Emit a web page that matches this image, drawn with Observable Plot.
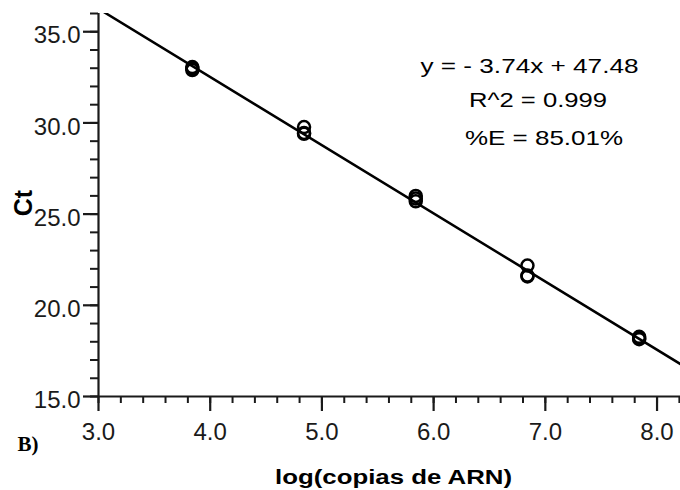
<!DOCTYPE html>
<html><head><meta charset="utf-8">
<script src="https://cdn.jsdelivr.net/npm/d3@7"></script>
<script src="https://cdn.jsdelivr.net/npm/@observablehq/plot@0.6"></script>
<style>
body{margin:0;background:#fff;}
#chart svg{display:block;}
</style></head>
<body><div id="chart"></div>
<script>
// Data
const logCopies = [3.84,3.84,3.84, 4.84,4.84,4.84, 5.84,5.84,5.84, 6.84,6.84,6.84, 7.84,7.84,7.84];
const ctValues  = [33.06,32.98,32.90, 29.77,29.45,29.40, 26.00,25.85,25.70, 22.18,21.63,21.58, 18.27,18.20,18.14];
const slope = -3.74;
const intercept = 47.48;
const annotations = ["y = - 3.74x + 47.48", "R^2 = 0.999", "%E = 85.01%"];
const xMajorTicks = [3, 4, 5, 6, 7, 8];
const yMajorTicks = [15, 20, 25, 30, 35];
const xLabel = ["log(copias de ARN)"];
const yLabel = ["Ct"];
const panelLabel = ["B)"];

const xDomain = [3, 8.21];
const yDomain = [15, 36];
const xMinorTicks = d3.range(3, 8.21, 0.2);
const yMinorTicks = d3.range(15, 36.01, 1);

const points = logCopies.map((x, i) => ({x, y: ctValues[i]}));
const fitLine = xDomain.map(x => ({x, y: slope * x + intercept}));
const fmt = d3.format(".1f");
const ink = "#1a1a1a";

const plot = Plot.plot({
  width: 680,
  height: 490,
  marginLeft: 98,
  marginRight: 0,
  marginTop: 13,
  marginBottom: 94,
  style: {fontFamily: "'Liberation Sans', Arial, sans-serif", background: "white", color: ink},
  x: {domain: xDomain},
  y: {domain: yDomain},
  marks: [
    // minor ticks
    Plot.axisY(yMinorTicks, {tickSize: 8, tickFormat: () => "", label: null, strokeWidth: 2}),
    Plot.axisX(xMinorTicks, {tickSize: 7, tickFormat: () => "", label: null, strokeWidth: 2}),
    // major ticks
    Plot.axisY(yMajorTicks, {tickSize: 15, tickFormat: () => "", label: null, strokeWidth: 2.2}),
    Plot.axisX(xMajorTicks, {tickSize: 15, tickPadding: 11, tickFormat: fmt, fontSize: 24, label: null, strokeWidth: 2.2}),
    // y tick labels
    Plot.text(yMajorTicks, {y: d => d, frameAnchor: "left", text: fmt, textAnchor: "end", dx: -18, dy: 4, fontSize: 24, fill: ink}),
    // axis lines
    Plot.ruleX([xDomain[0]], {stroke: ink, strokeWidth: 2.2}),
    Plot.ruleY([yDomain[0]], {stroke: ink, strokeWidth: 2.2}),
    // fit line
    Plot.line(fitLine, {x: "x", y: "y", stroke: "black", strokeWidth: 2.5, clip: true}),
    // points
    Plot.dot(points, {x: "x", y: "y", r: 6, stroke: "black", strokeWidth: 2.5, fill: "none"}),
    // annotations
    Plot.text([annotations[0]], {frameAnchor: "top-left", dx: 431, dy: 52.5, text: d => d, fontSize: 21, textAnchor: "middle", lineAnchor: "middle", fill: "black"}),
    Plot.text([annotations[1]], {frameAnchor: "top-left", dx: 439.5, dy: 87, text: d => d, fontSize: 21, textAnchor: "middle", lineAnchor: "middle", fill: "black"}),
    Plot.text([annotations[2]], {frameAnchor: "top-left", dx: 445.5, dy: 124.5, text: d => d, fontSize: 21, textAnchor: "middle", lineAnchor: "middle", fill: "black"}),
    // axis titles
    Plot.text(xLabel, {frameAnchor: "bottom", dx: 4, dy: 81, text: d => d, fontSize: 20, fontWeight: "bold", textAnchor: "middle", lineAnchor: "middle", fill: "black"}),
    Plot.text(yLabel, {frameAnchor: "left", dx: -75, dy: -2, rotate: -90, text: d => d, fontSize: 25, fontWeight: "bold", textAnchor: "middle", lineAnchor: "middle", fill: "black"}),
    Plot.text(panelLabel, {frameAnchor: "bottom-left", dx: -81, dy: 48, text: d => d, fontSize: 21, fontWeight: "bold", fontFamily: "'Liberation Serif', 'Times New Roman', serif", textAnchor: "start", lineAnchor: "middle", fill: "black"})
  ]
});

// stretch texts horizontally like the reference
const stretch = {"y = - 3.74x + 47.48": 218, "R^2 = 0.999": 138, "%E = 85.01%": 158, "log(copias de ARN)": 237};
plot.querySelectorAll("text").forEach(t => {
  const w = stretch[t.textContent];
  if (w) { t.setAttribute("textLength", w); t.setAttribute("lengthAdjust", "spacingAndGlyphs"); }
});
document.getElementById("chart").appendChild(plot);
</script>
</body></html>
